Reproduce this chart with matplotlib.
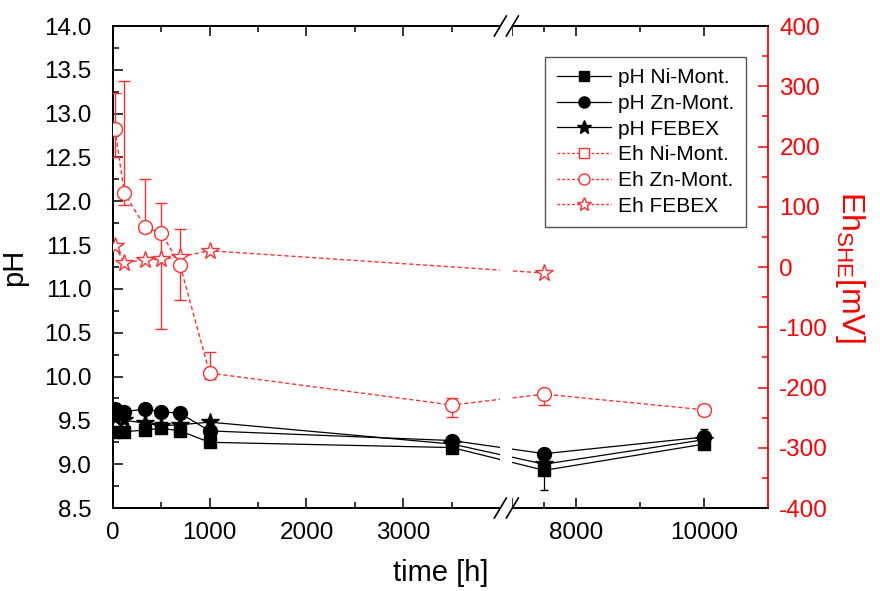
"""pH and Eh evolution over time for Ni-/Zn-montmorillonite and FEBEX, broken time axis."""
import matplotlib

matplotlib.use("Agg")
import matplotlib.pyplot as plt
from matplotlib.lines import Line2D
from matplotlib.patches import Rectangle
import numpy as np

plt.rcParams["font.family"] = ["Liberation Sans", "DejaVu Sans"]
plt.rcParams["mathtext.fontset"] = "custom"
plt.rcParams["mathtext.rm"] = "Liberation Sans"
plt.rcParams["mathtext.it"] = "Liberation Sans"
plt.rcParams["axes.unicode_minus"] = False

RED = "#ff0000"
RED_DATA = "#ff3030"

# time points [h]
time_h = [24, 120, 336, 504, 696, 1000, 3500, 7500, 10000]

# pH series
ph_ni = [9.37, 9.37, 9.39, 9.41, 9.38, 9.25, 9.19, 8.93, 9.23]
ph_zn = [9.63, 9.60, 9.63, 9.60, 9.58, 9.38, 9.27, 9.12, 9.31]
ph_febex = [9.53, 9.50, 9.47, 9.44, 9.45, 9.48, 9.23, 9.00, 9.28]
ph_ni_err = [0, 0, 0, 0, 0, 0, 0, 0.22, 0]
ph_zn_err = [0, 0, 0, 0, 0, 0, 0, 0, 0.09]

# Eh series [mV]
eh_ni_time = []
eh_ni = []
eh_zn = [229, 123, 66, 56, 3, -176, -229, -211, -237]
eh_zn_err_lo = [46, 20, 8, 159, 58, 10, 20, 18, 8]
eh_zn_err_hi = [60, 186, 80, 50, 60, 35, 12, 5, 8]
eh_febex_time = [24, 120, 336, 504, 696, 1000, 7500]
eh_febex = [35, 7, 12, 13, 17, 27, -10]

xticks_major = [0, 1000, 2000, 3000, 7000, 8000, 10000]
xtick_labels = ["0", "1000", "2000", "3000", "", "8000", "10000"]
xticks_minor = [500, 1500, 2500, 3500, 7500, 9000]

# broken axis: 0-4000 and 7000-11000, second part compressed
SEG1_END, SEG2_START = 4000.0, 7000.0
GAP = 124.0
RATIO = 0.66


def fwd(x):
    x = np.asarray(x, dtype=float)
    mid = SEG1_END + (x - SEG1_END) * GAP / (SEG2_START - SEG1_END)
    hi = SEG1_END + GAP + (x - SEG2_START) * RATIO
    return np.where(x <= SEG1_END, x, np.where(x >= SEG2_START, hi, mid))


def inv(y):
    y = np.asarray(y, dtype=float)
    mid = SEG1_END + (y - SEG1_END) * (SEG2_START - SEG1_END) / GAP
    hi = SEG2_START + (y - SEG1_END - GAP) / RATIO
    return np.where(y <= SEG1_END, y, np.where(y >= SEG1_END + GAP, hi, mid))


fig = plt.figure(figsize=(8.8, 5.91), dpi=100)
ax = fig.add_axes([0.128, 0.1404, 0.745, 0.8156])
ax.set_xscale("function", functions=(fwd, inv))
ax.set_xlim(0, 11000)
ax.set_ylim(8.5, 14.0)

lw = 0.9
ax.errorbar(time_h, ph_ni, yerr=ph_ni_err, color="black", lw=lw, marker="s", ms=9,
            capsize=3, elinewidth=0.9, zorder=3)
ax.errorbar(time_h, ph_zn, yerr=ph_zn_err, color="black", lw=lw, marker="o", ms=10,
            capsize=3, elinewidth=0.9, zorder=3)
ax.plot(time_h, ph_febex, color="black", lw=lw, marker="*", ms=13, zorder=3)

ax2 = ax.twinx()
ax2.set_ylim(-400, 400)
ax2.plot(eh_ni_time, eh_ni, color=RED_DATA, lw=1, ls=(0, (3, 2)), marker="s",
         mfc="white", ms=9)
ax2.errorbar(time_h, eh_zn, yerr=[eh_zn_err_lo, eh_zn_err_hi], color=RED_DATA, lw=1,
             ls=(0, (3, 2)), marker="o", mfc="white", mec=RED_DATA, ms=10, capsize=4,
             elinewidth=1, zorder=3)
ax2.plot(eh_febex_time, eh_febex, color=RED_DATA, lw=1, ls=(0, (3, 2)), marker="*",
         mfc="white", mec=RED_DATA, mew=1, ms=13, zorder=3)

# ticks
ax.set_xticks(xticks_major, xtick_labels)
ax.set_xticks(xticks_minor, minor=True)
ax.set_yticks(np.arange(8.5, 14.01, 0.5))
ax.set_yticks(np.arange(8.5, 14.01, 0.25), minor=True)
ax.yaxis.set_major_formatter(matplotlib.ticker.FormatStrFormatter("%.1f"))
ax.tick_params(which="both", direction="in", top=True, right=False, labelsize=17.5)
ax.tick_params(which="major", length=7, width=1.1)
ax.tick_params(which="minor", length=4, width=1.1)
ax.tick_params(axis="y", pad=15)
ax.tick_params(axis="x", pad=10)

ax2.set_yticks(np.arange(-400, 401, 100))
ax2.set_yticks(np.arange(-400, 401, 50), minor=True)
ax2.tick_params(which="both", direction="in", colors=RED, labelsize=17.5, pad=8, width=1.1)
ax2.tick_params(which="major", length=7)
ax2.tick_params(which="minor", length=4)

for a in (ax, ax2):
    for s in a.spines.values():
        s.set_linewidth(1.3)
ax2.spines["right"].set_color(RED)
ax.spines["right"].set_visible(False)

ax.set_xlabel("time [h]", fontsize=21, labelpad=11)
ax.set_ylabel("pH", fontsize=21, labelpad=12)
ax2.set_ylabel(r"Eh$_{\mathrm{SHE}}$[mV]", fontsize=23, color=RED, rotation=270,
               labelpad=28)

# white-out band and // marks at the axis break
x0 = float(fwd(SEG1_END)) / float(fwd(11000))
x1 = float(fwd(SEG2_START)) / float(fwd(11000))
ax2.add_patch(Rectangle((x0, -0.01), x1 - x0, 1.02, transform=ax2.transAxes,
                        facecolor="white", edgecolor="none", clip_on=False, zorder=10))
dx, dy = 6 / 655, 10 / 482
for xc in (x0, x1):
    for yc in (0.0, 1.0):
        ax2.add_line(Line2D([xc - dx, xc + dx], [yc - dy, yc + dy], color="black", lw=1.2,
                            transform=ax2.transAxes, clip_on=False, zorder=11))

handles = [
    Line2D([], [], color="black", lw=lw, marker="s", ms=7),
    Line2D([], [], color="black", lw=lw, marker="o", ms=8),
    Line2D([], [], color="black", lw=lw, marker="*", ms=10),
    Line2D([], [], color=RED_DATA, lw=1, ls=(0, (2, 1.5)), marker="s", mfc="white", ms=7),
    Line2D([], [], color=RED_DATA, lw=1, ls=(0, (2, 1.5)), marker="o", mfc="white", ms=8),
    Line2D([], [], color=RED_DATA, lw=1, ls=(0, (2, 1.5)), marker="*", mfc="white", ms=10),
]
labels = ["pH Ni-Mont.", "pH Zn-Mont.", "pH FEBEX", "Eh Ni-Mont.", "Eh Zn-Mont.", "Eh FEBEX"]
leg = ax2.legend(handles, labels, loc="upper right", bbox_to_anchor=(0.966, 0.936),
                 borderaxespad=0, fontsize=15, fancybox=False, framealpha=1,
                 edgecolor="#555555", handlelength=2.6, labelspacing=0.32,
                 handletextpad=0.35, borderpad=0.55)
leg.get_frame().set_linewidth(1.0)
leg.set_zorder(12)

fig.savefig("out.png", dpi=100)
